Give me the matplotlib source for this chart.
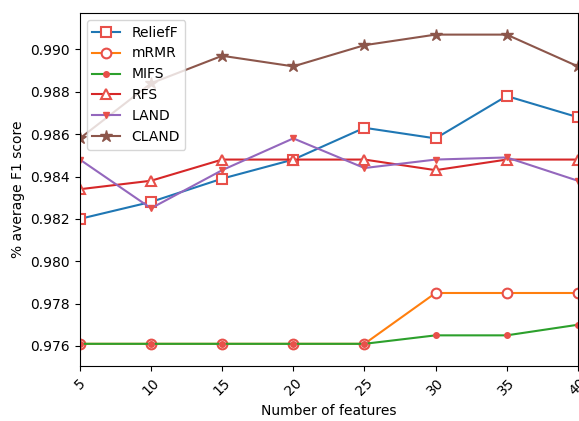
import matplotlib
matplotlib.use("Agg")
import matplotlib.pyplot as plt

# number of selected features
n_features = [5, 10, 15, 20, 25, 30, 35, 40]

# average F1 score per method
relieff = [0.9820, 0.9828, 0.9839, 0.9848, 0.9863, 0.9858, 0.9878, 0.9868]
mrmr = [0.9761, 0.9761, 0.9761, 0.9761, 0.9761, 0.9785, 0.9785, 0.9785]
mifs = [0.9761, 0.9761, 0.9761, 0.9761, 0.9761, 0.9765, 0.9765, 0.9770]
rfs = [0.9834, 0.9838, 0.9848, 0.9848, 0.9848, 0.9843, 0.9848, 0.9848]
land = [0.9848, 0.9825, 0.9843, 0.9858, 0.9844, 0.9848, 0.9849, 0.9838]
cland = [0.9858, 0.9884, 0.9897, 0.9892, 0.9902, 0.9907, 0.9907, 0.9892]

mark = "#e8504a"

fig = plt.figure(figsize=(5.79, 4.21), dpi=100)
ax = fig.add_axes([0.138, 0.1295, 0.860, 0.8396])

ax.plot(n_features, relieff, color="C0", marker="s", mfc="white", mec=mark,
        ms=7, mew=1.5, lw=1.5, label="ReliefF")
ax.plot(n_features, mrmr, color="C1", marker="o", mfc="white", mec=mark,
        ms=7, mew=1.5, lw=1.5, label="mRMR")
ax.plot(n_features, mifs, color="C2", marker="o", mfc=mark, mec=mark,
        ms=4, lw=1.5, label="MIFS")
ax.plot(n_features, rfs, color="C3", marker="^", mfc="white", mec=mark,
        ms=7, mew=1.5, lw=1.5, label="RFS")
ax.plot(n_features, land, color="C4", marker="v", mfc=mark, mec=mark,
        ms=4, lw=1.5, label="LAND")
ax.plot(n_features, cland, color="C5", marker="*", ms=9, lw=1.5, label="CLAND")

ax.set_xlim(5, 40)
ax.set_ylim(0.97503, 0.99172)
ax.set_xticks(n_features)
ax.set_xticklabels([str(n) for n in n_features], rotation=45)
ax.set_yticks([0.976, 0.978, 0.980, 0.982, 0.984, 0.986, 0.988, 0.990])
ax.set_xlabel("Number of features")
ax.set_ylabel("% average F1 score")
ax.legend(loc="upper left")

fig.savefig("out.png", dpi=100)
